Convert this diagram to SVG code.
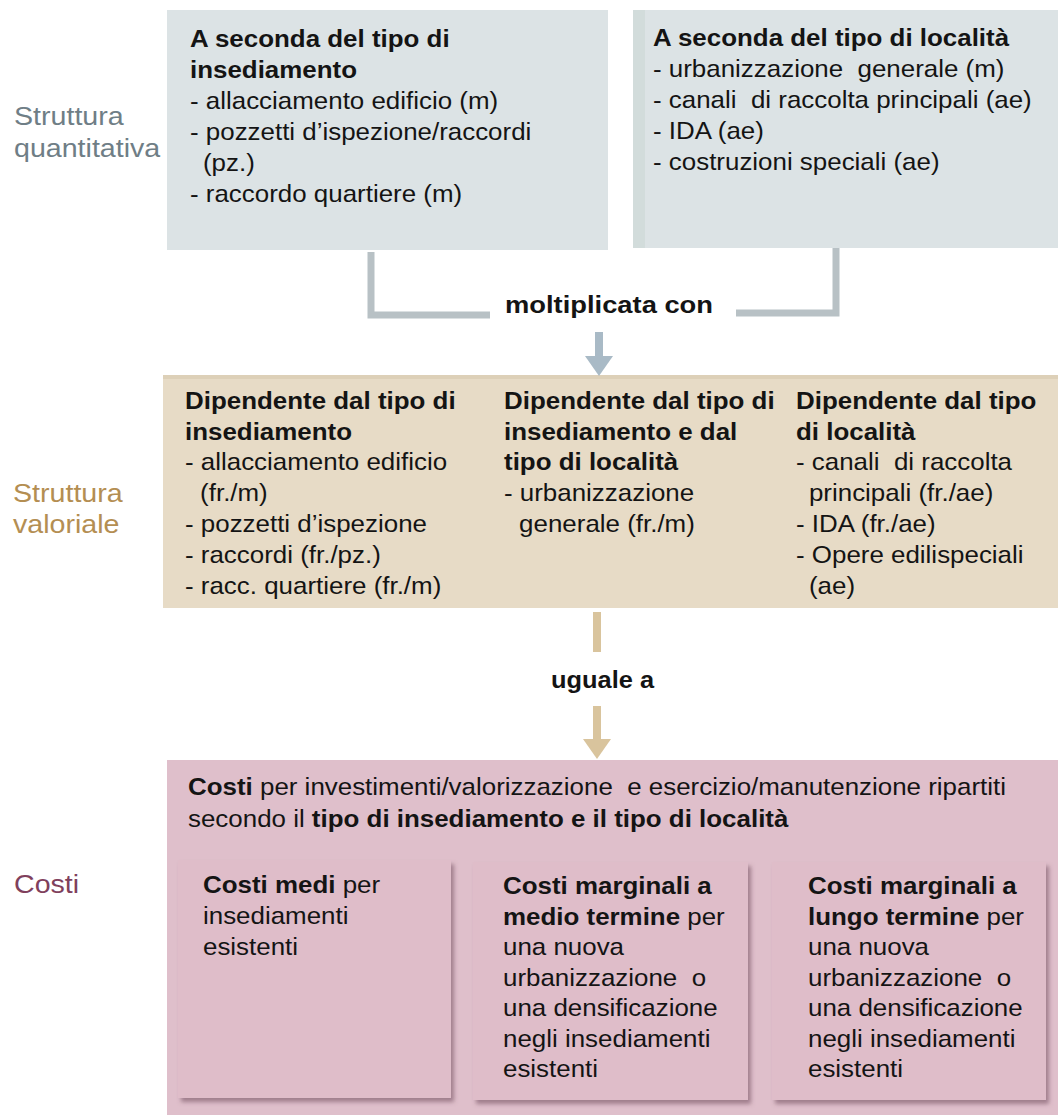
<svg xmlns="http://www.w3.org/2000/svg" width="1058" height="1115" viewBox="0 0 1058 1115">
<style>
.t{font-family:"Liberation Sans",Arial,sans-serif;font-size:24px;fill:#141414}
.b{font-weight:bold}
.lab{font-family:"Liberation Sans",Arial,sans-serif;font-size:26px}
.conn{fill:none;stroke:#b8c1c5;stroke-width:7}
.card{fill:#dfbdc9;filter:url(#sh)}
</style>
<defs>
<marker id="ahGray" markerUnits="userSpaceOnUse" markerWidth="20" markerHeight="28" refX="0" refY="14" orient="auto" viewBox="0 0 20 28">
<path d="M0,0 L20,14 L0,28 z" fill="#a9bac6"/>
</marker>
<marker id="ahTan" markerUnits="userSpaceOnUse" markerWidth="20" markerHeight="28" refX="0" refY="14" orient="auto" viewBox="0 0 20 28">
<path d="M0,0 L20,14 L0,28 z" fill="#d9c49d"/>
</marker>
<filter id="sh" x="-5%" y="-5%" width="115%" height="115%">
<feDropShadow dx="3" dy="4" stdDeviation="2" flood-color="#6d4a5a" flood-opacity="0.55"/>
</filter>
</defs>
<rect width="1058" height="1115" fill="#ffffff"/>

<g id="label-quantitativa" class="lab" fill="#6f7e86">
<text transform="matrix(1.1 0 0 1 14 0)"><tspan x="0" y="125">Struttura</tspan><tspan x="0" y="157">quantitativa</tspan></text>
</g>

<g id="node-insediamento">
<rect x="167" y="10" width="441" height="240" fill="#dce3e5"/>
<text class="t" transform="matrix(1.08 0 0 1 190 0)"><tspan class="b" x="0" y="47">A seconda del tipo di</tspan><tspan class="b" x="0" y="78">insediamento</tspan><tspan x="0" y="109">- allacciamento edificio (m)</tspan><tspan x="0" y="140">- pozzetti d’ispezione/raccordi</tspan><tspan x="12" y="171">(pz.)</tspan><tspan x="0" y="202">- raccordo quartiere (m)</tspan></text>
</g>

<g id="node-localita">
<rect x="633" y="10" width="425" height="238" fill="#dce3e5"/>
<rect x="633" y="10" width="12" height="238" fill="#d2dcdb"/>
<text class="t" xml:space="preserve" transform="matrix(1.08 0 0 1 653 0)"><tspan class="b" x="0" y="46">A seconda del tipo di località</tspan><tspan x="0" y="77">- urbanizzazione  generale (m)</tspan><tspan x="0" y="108">- canali  di raccolta principali (ae)</tspan><tspan x="0" y="139">- IDA (ae)</tspan><tspan x="0" y="170">- costruzioni speciali (ae)</tspan></text>
</g>

<g id="label-valoriale" class="lab" fill="#b48e52">
<text transform="matrix(1.1 0 0 1 13 0)"><tspan x="0" y="502">Struttura</tspan><tspan x="0" y="533">valoriale</tspan></text>
</g>

<g id="node-valoriale">
<rect x="163" y="375" width="895" height="233" fill="#e7dbc6"/>
<rect x="163" y="375" width="895" height="4" fill="#ddd0b8"/>
<text class="t" transform="matrix(1.08 0 0 1 185 0)"><tspan class="b" x="0" y="409">Dipendente dal tipo di</tspan><tspan class="b" x="0" y="440">insediamento</tspan><tspan x="0" y="470">- allacciamento edificio</tspan><tspan x="14" y="501">(fr./m)</tspan><tspan x="0" y="532">- pozzetti d’ispezione</tspan><tspan x="0" y="563">- raccordi (fr./pz.)</tspan><tspan x="0" y="594">- racc. quartiere (fr./m)</tspan></text>
<text class="t" transform="matrix(1.08 0 0 1 504 0)"><tspan class="b" x="0" y="409">Dipendente dal tipo di</tspan><tspan class="b" x="0" y="440">insediamento e dal</tspan><tspan class="b" x="0" y="470">tipo di località</tspan><tspan x="0" y="501">- urbanizzazione</tspan><tspan x="14" y="532">generale (fr./m)</tspan></text>
<text class="t" xml:space="preserve" transform="matrix(1.08 0 0 1 796 0)"><tspan class="b" x="0" y="409">Dipendente dal tipo</tspan><tspan class="b" x="0" y="440">di località</tspan><tspan x="0" y="470">- canali  di raccolta</tspan><tspan x="12" y="501">principali (fr./ae)</tspan><tspan x="0" y="532">- IDA (fr./ae)</tspan><tspan x="0" y="563">- Opere edilispeciali</tspan><tspan x="12" y="594">(ae)</tspan></text>
</g>

<g id="label-costi" class="lab" fill="#80405c">
<text transform="matrix(1.1 0 0 1 14 0)"><tspan x="0" y="893">Costi</tspan></text>
</g>

<g id="node-costi">
<rect x="167" y="760" width="891" height="355" fill="#dfbfcb"/>
<text class="t" xml:space="preserve" transform="matrix(1.08 0 0 1 188 0)"><tspan x="0" y="795"><tspan class="b">Costi</tspan> per investimenti/valorizzazione  e esercizio/manutenzione ripartiti</tspan><tspan x="0" y="827">secondo il <tspan class="b">tipo di insediamento e il tipo di località</tspan></tspan></text>
<g id="card-medi">
<rect class="card" x="178" y="860" width="273" height="238"/>
<text class="t" transform="matrix(1.08 0 0 1 203 0)"><tspan x="0" y="893"><tspan class="b">Costi medi</tspan> per</tspan><tspan x="0" y="924">insediamenti</tspan><tspan x="0" y="955">esistenti</tspan></text>
</g>
<g id="card-medio-termine">
<rect class="card" x="473" y="862" width="275" height="238"/>
<text class="t" xml:space="preserve" transform="matrix(1.08 0 0 1 503 0)"><tspan class="b" x="0" y="894">Costi marginali a</tspan><tspan x="0" y="925"><tspan class="b">medio termine</tspan> per</tspan><tspan x="0" y="955">una nuova</tspan><tspan x="0" y="986">urbanizzazione  o</tspan><tspan x="0" y="1016">una densificazione</tspan><tspan x="0" y="1047">negli insediamenti</tspan><tspan x="0" y="1077">esistenti</tspan></text>
</g>
<g id="card-lungo-termine">
<rect class="card" x="772" y="862" width="274" height="238"/>
<text class="t" xml:space="preserve" transform="matrix(1.08 0 0 1 808 0)"><tspan class="b" x="0" y="894">Costi marginali a</tspan><tspan x="0" y="925"><tspan class="b">lungo termine</tspan> per</tspan><tspan x="0" y="955">una nuova</tspan><tspan x="0" y="986">urbanizzazione  o</tspan><tspan x="0" y="1016">una densificazione</tspan><tspan x="0" y="1047">negli insediamenti</tspan><tspan x="0" y="1077">esistenti</tspan></text>
</g>
</g>

<g id="connectors">
<path class="conn" d="M371,252 V315 H490"/>
<path class="conn" d="M836,248 V313 H736"/>
<text class="t b" x="505" y="313" textLength="208" lengthAdjust="spacingAndGlyphs">moltiplicata con</text>
<line x1="599" y1="332" x2="599" y2="356" stroke="#a9bac6" stroke-width="8" marker-end="url(#ahGray)"/>
<line x1="597" y1="612" x2="597" y2="652" stroke="#d9c49d" stroke-width="8"/>
<text class="t b" x="551" y="688" textLength="103" lengthAdjust="spacingAndGlyphs">uguale a</text>
<line x1="597" y1="706" x2="597" y2="739" stroke="#d9c49d" stroke-width="8" marker-end="url(#ahTan)"/>
</g>
</svg>
